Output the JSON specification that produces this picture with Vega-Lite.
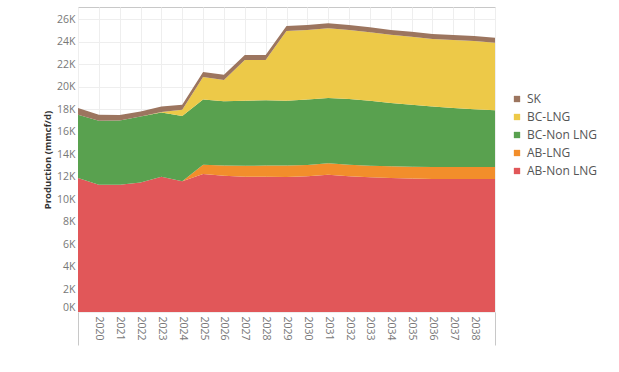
{
  "$schema": "https://vega.github.io/schema/vega-lite/v6.json",
  "width": 417,
  "height": 305,
  "autosize": {"type": "none"},
  "padding": {"left": 78, "top": 7, "right": 124, "bottom": 60},
  "background": "white",
  "config": {"view": {"stroke": "#c8c8c8", "strokeWidth": 1}, "font": "Open Sans"},
  "data": {"values": [
    {"year": 2019, "series": "AB-Non LNG", "value": 11900}, {"year": 2019, "series": "AB-LNG", "value": 0}, {"year": 2019, "series": "BC-Non LNG", "value": 5600}, {"year": 2019, "series": "BC-LNG", "value": 0}, {"year": 2019, "series": "SK", "value": 600},
    {"year": 2020, "series": "AB-Non LNG", "value": 11300}, {"year": 2020, "series": "AB-LNG", "value": 0}, {"year": 2020, "series": "BC-Non LNG", "value": 5670}, {"year": 2020, "series": "BC-LNG", "value": 0}, {"year": 2020, "series": "SK", "value": 530},
    {"year": 2021, "series": "AB-Non LNG", "value": 11300}, {"year": 2021, "series": "AB-LNG", "value": 0}, {"year": 2021, "series": "BC-Non LNG", "value": 5700}, {"year": 2021, "series": "BC-LNG", "value": 0}, {"year": 2021, "series": "SK", "value": 480},
    {"year": 2022, "series": "AB-Non LNG", "value": 11500}, {"year": 2022, "series": "AB-LNG", "value": 0}, {"year": 2022, "series": "BC-Non LNG", "value": 5850}, {"year": 2022, "series": "BC-LNG", "value": 0}, {"year": 2022, "series": "SK", "value": 450},
    {"year": 2023, "series": "AB-Non LNG", "value": 12000}, {"year": 2023, "series": "AB-LNG", "value": 0}, {"year": 2023, "series": "BC-Non LNG", "value": 5700}, {"year": 2023, "series": "BC-LNG", "value": 50}, {"year": 2023, "series": "SK", "value": 480},
    {"year": 2024, "series": "AB-Non LNG", "value": 11600}, {"year": 2024, "series": "AB-LNG", "value": 0}, {"year": 2024, "series": "BC-Non LNG", "value": 5800}, {"year": 2024, "series": "BC-LNG", "value": 550}, {"year": 2024, "series": "SK", "value": 450},
    {"year": 2025, "series": "AB-Non LNG", "value": 12250}, {"year": 2025, "series": "AB-LNG", "value": 820}, {"year": 2025, "series": "BC-Non LNG", "value": 5780}, {"year": 2025, "series": "BC-LNG", "value": 2000}, {"year": 2025, "series": "SK", "value": 460},
    {"year": 2026, "series": "AB-Non LNG", "value": 12100}, {"year": 2026, "series": "AB-LNG", "value": 900}, {"year": 2026, "series": "BC-Non LNG", "value": 5700}, {"year": 2026, "series": "BC-LNG", "value": 1900}, {"year": 2026, "series": "SK", "value": 450},
    {"year": 2027, "series": "AB-Non LNG", "value": 12000}, {"year": 2027, "series": "AB-LNG", "value": 980}, {"year": 2027, "series": "BC-Non LNG", "value": 5770}, {"year": 2027, "series": "BC-LNG", "value": 3620}, {"year": 2027, "series": "SK", "value": 430},
    {"year": 2028, "series": "AB-Non LNG", "value": 12000}, {"year": 2028, "series": "AB-LNG", "value": 1000}, {"year": 2028, "series": "BC-Non LNG", "value": 5800}, {"year": 2028, "series": "BC-LNG", "value": 3570}, {"year": 2028, "series": "SK", "value": 430},
    {"year": 2029, "series": "AB-Non LNG", "value": 11980}, {"year": 2029, "series": "AB-LNG", "value": 1020}, {"year": 2029, "series": "BC-Non LNG", "value": 5750}, {"year": 2029, "series": "BC-LNG", "value": 6190}, {"year": 2029, "series": "SK", "value": 440},
    {"year": 2030, "series": "AB-Non LNG", "value": 12050}, {"year": 2030, "series": "AB-LNG", "value": 1000}, {"year": 2030, "series": "BC-Non LNG", "value": 5800}, {"year": 2030, "series": "BC-LNG", "value": 6180}, {"year": 2030, "series": "SK", "value": 440},
    {"year": 2031, "series": "AB-Non LNG", "value": 12190}, {"year": 2031, "series": "AB-LNG", "value": 1010}, {"year": 2031, "series": "BC-Non LNG", "value": 5800}, {"year": 2031, "series": "BC-LNG", "value": 6180}, {"year": 2031, "series": "SK", "value": 440},
    {"year": 2032, "series": "AB-Non LNG", "value": 12050}, {"year": 2032, "series": "AB-LNG", "value": 1020}, {"year": 2032, "series": "BC-Non LNG", "value": 5830}, {"year": 2032, "series": "BC-LNG", "value": 6130}, {"year": 2032, "series": "SK", "value": 440},
    {"year": 2033, "series": "AB-Non LNG", "value": 11950}, {"year": 2033, "series": "AB-LNG", "value": 1020}, {"year": 2033, "series": "BC-Non LNG", "value": 5780}, {"year": 2033, "series": "BC-LNG", "value": 6080}, {"year": 2033, "series": "SK", "value": 440},
    {"year": 2034, "series": "AB-Non LNG", "value": 11900}, {"year": 2034, "series": "AB-LNG", "value": 1030}, {"year": 2034, "series": "BC-Non LNG", "value": 5620}, {"year": 2034, "series": "BC-LNG", "value": 6050}, {"year": 2034, "series": "SK", "value": 430},
    {"year": 2035, "series": "AB-Non LNG", "value": 11850}, {"year": 2035, "series": "AB-LNG", "value": 1050}, {"year": 2035, "series": "BC-Non LNG", "value": 5500}, {"year": 2035, "series": "BC-LNG", "value": 6030}, {"year": 2035, "series": "SK", "value": 450},
    {"year": 2036, "series": "AB-Non LNG", "value": 11800}, {"year": 2036, "series": "AB-LNG", "value": 1070}, {"year": 2036, "series": "BC-Non LNG", "value": 5380}, {"year": 2036, "series": "BC-LNG", "value": 5980}, {"year": 2036, "series": "SK", "value": 450},
    {"year": 2037, "series": "AB-Non LNG", "value": 11800}, {"year": 2037, "series": "AB-LNG", "value": 1070}, {"year": 2037, "series": "BC-Non LNG", "value": 5230}, {"year": 2037, "series": "BC-LNG", "value": 6040}, {"year": 2037, "series": "SK", "value": 450},
    {"year": 2038, "series": "AB-Non LNG", "value": 11800}, {"year": 2038, "series": "AB-LNG", "value": 1070}, {"year": 2038, "series": "BC-Non LNG", "value": 5130}, {"year": 2038, "series": "BC-LNG", "value": 6050}, {"year": 2038, "series": "SK", "value": 450},
    {"year": 2039, "series": "AB-Non LNG", "value": 11800}, {"year": 2039, "series": "AB-LNG", "value": 1070}, {"year": 2039, "series": "BC-Non LNG", "value": 5030}, {"year": 2039, "series": "BC-LNG", "value": 6000}, {"year": 2039, "series": "SK", "value": 450}
  ]},
  "transform": [
    {"calculate": "indexof(['AB-Non LNG', 'AB-LNG', 'BC-Non LNG', 'BC-LNG', 'SK'], datum.series)", "as": "stackOrder"}
  ],
  "mark": {"type": "area", "interpolate": "linear"},
  "encoding": {
    "x": {
      "field": "year", "type": "quantitative",
      "scale": {"domain": [2019, 2039], "nice": false, "zero": false},
      "axis": {
        "title": null,
        "values": [2019, 2020, 2021, 2022, 2023, 2024, 2025, 2026, 2027, 2028, 2029, 2030, 2031, 2032, 2033, 2034, 2035, 2036, 2037, 2038, 2039],
        "domain": false,
        "tickSize": 33,
        "tickColor": {"condition": {"test": "datum.value == 2019 || datum.value == 2039", "value": "#c8c8c8"}, "value": "transparent"},
        "labelExpr": "datum.value == 2019 || datum.value == 2039 ? '' : '' + datum.value",
        "labelAngle": 90,
        "labelAlign": "left",
        "labelBaseline": "middle",
        "labelPadding": -29,
        "labelFontSize": 10.5,
        "labelColor": "#777777",
        "gridColor": "#eeeeee"
      }
    },
    "y": {
      "field": "value", "type": "quantitative", "stack": "zero",
      "scale": {"domain": [0, 27070], "nice": false},
      "axis": {
        "title": "Production (mmcf/d)",
        "values": [0, 2000, 4000, 6000, 8000, 10000, 12000, 14000, 16000, 18000, 20000, 22000, 24000, 26000],
        "domain": false,
        "ticks": false,
        "labelExpr": "(datum.value / 1000) + 'K'",
        "labelFlush": true,
        "labelPadding": 3,
        "labelFontSize": 10.5,
        "labelColor": "#777777",
        "gridColor": "#eeeeee",
        "titleFontWeight": "bold",
        "titleFontSize": 9.5,
        "titleColor": "#333333",
        "titleAngle": -90,
        "titleX": -31,
        "titleY": 152.5,
        "titleAlign": "center",
        "titleBaseline": "middle"
      }
    },
    "order": {"field": "stackOrder", "type": "quantitative", "sort": "ascending"},
    "color": {
      "field": "series", "type": "nominal",
      "scale": {
        "domain": ["SK", "BC-LNG", "BC-Non LNG", "AB-LNG", "AB-Non LNG"],
        "range": ["#9c755f", "#edc948", "#59a14f", "#f28e2b", "#e15759"]
      },
      "legend": {
        "title": null,
        "orient": "none",
        "legendX": 433,
        "legendY": 86,
        "padding": 0,
        "symbolType": "square",
        "symbolSize": 40,
        "symbolStrokeWidth": 0,
        "labelFontSize": 12,
        "labelColor": "#555555",
        "labelOffset": 4,
        "rowPadding": 6
      }
    }
  }
}
